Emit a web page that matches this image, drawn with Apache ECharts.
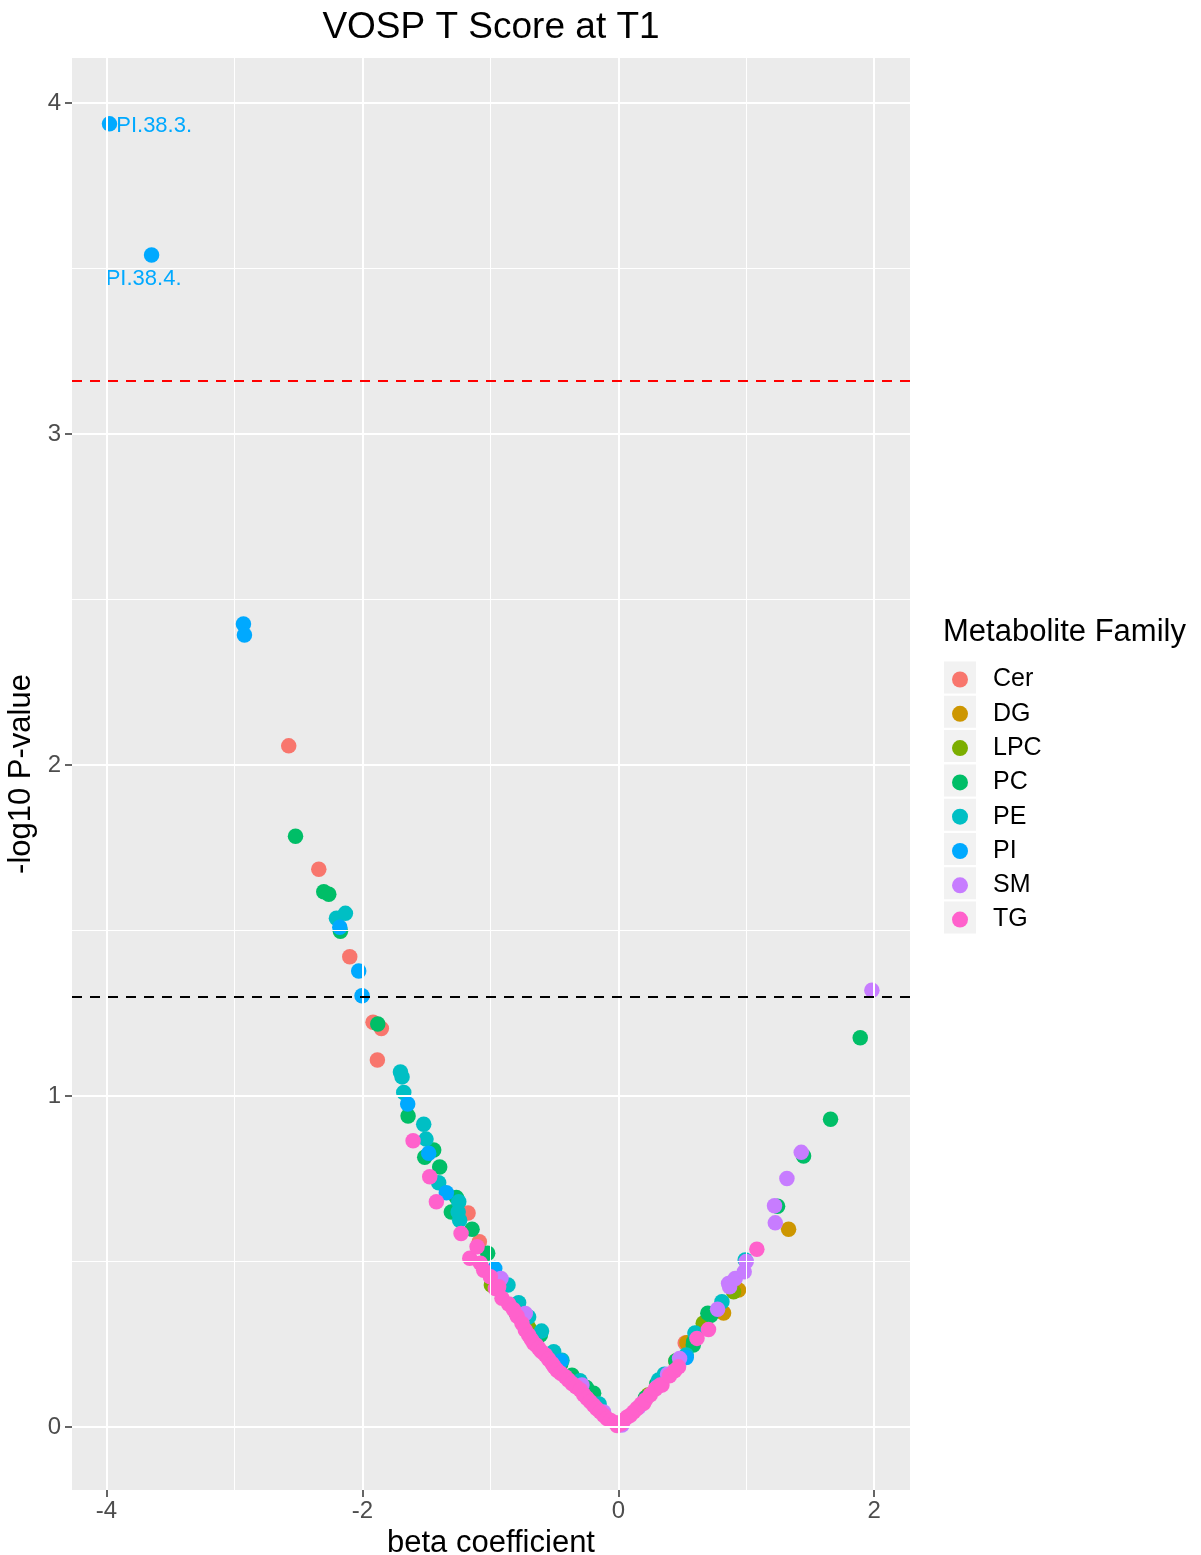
<!DOCTYPE html>
<html>
<head>
<meta charset="utf-8">
<script src="https://cdn.jsdelivr.net/npm/echarts@6/dist/echarts.min.js"></script>
<style>html,body{margin:0;padding:0;background:#fff}#c{width:1201px;height:1555px}</style>
</head>
<body>
<div id="c"></div>
<script>
// ---- data ----
const families = ['Cer','DG','LPC','PC','PE','PI','SM','TG'];
const colors = ['#F8766D','#CD9600','#7CAE00','#00BE67','#00BFC4','#00A9FF','#C77CFF','#FF61CC'];
const xTicks = [-4,-2,0,2];
const xMinor = [-3,-1,1];
const yTicks = [0,1,2,3,4];
const yMinor = [0.5,1.5,2.5,3.5];
const bonferroniLine = 3.157;
const nominalLine = 1.301;

const cerData = [[-2.576,2.058],[-2.341,1.685],[-2.099,1.421],[-1.917,1.223],[-1.852,1.204],[-1.883,1.109],[-1.174,0.647],[-1.086,0.560],[-0.78,0.352],[0.523,0.254]];
const dgData = [[1.331,0.598],[0.940,0.414],[0.823,0.345],[0.536,0.255],[0.60,0.27],[0.45,0.20]];
const lpcData = [[-0.992,0.429],[-0.70,0.30],[0.901,0.409],[0.664,0.314],[0.680,0.308],[0.234,0.097],[0.224,0.092]];
const pcData = [[-2.523,1.785],[-2.302,1.617],[-2.263,1.610],[-2.172,1.498],[-1.880,1.218],[-1.643,0.940],[-1.443,0.837],[-1.513,0.815],[-1.396,0.786],[-1.266,0.694],[-1.305,0.650],[-1.143,0.598],[-1.021,0.525],[-0.797,0.343],[-0.609,0.278],[-0.45,0.19],[-0.362,0.157],[-0.25,0.12],[-0.193,0.102],[0.211,0.088],[0.30,0.13],[0.45,0.20],[0.586,0.248],[0.589,0.258],[0.70,0.344],[0.724,0.338],[1.245,0.667],[1.448,0.819],[1.659,0.930],[1.891,1.176]];
const peData = [[-2.203,1.537],[-2.133,1.552],[-1.703,1.073],[-1.690,1.058],[-1.677,1.011],[-1.521,0.915],[-1.503,0.870],[-1.404,0.738],[-1.247,0.681],[-1.252,0.650],[-1.240,0.625],[-0.862,0.429],[-0.779,0.376],[-0.701,0.333],[-0.60,0.29],[-0.505,0.228],[-0.440,0.202],[-0.30,0.14],[-0.15,0.07],[0.315,0.142],[0.36,0.16],[0.523,0.212],[0.531,0.218],[0.60,0.284],[0.602,0.283],[0.810,0.379],[0.992,0.505]];
const piData = [[-3.977,3.937],[-3.648,3.541],[-2.930,2.426],[-2.922,2.393],[-2.177,1.510],[-2.029,1.378],[-2.003,1.303],[-1.646,0.976],[-1.482,0.827],[-1.344,0.708],[-0.966,0.479],[-0.45,0.20],[0.531,0.210]];
const piLabels = ['PI.38.3.','PI.38.4.'];
const smData = [[-0.917,0.449],[-0.727,0.343],[-0.284,0.127],[-0.115,0.046],[0.0,0.006],[0.029,0.006],[0.16,0.06],[0.30,0.12],[0.385,0.160],[0.479,0.207],[0.776,0.356],[0.862,0.434],[0.870,0.424],[0.914,0.449],[0.984,0.469],[1.0,0.500],[1.227,0.617],[1.221,0.669],[1.318,0.751],[1.430,0.830],[1.982,1.320]];
const tgData = [[-1.604,0.865],[-1.474,0.756],[-1.422,0.681],[-1.229,0.585],[-1.161,0.510],[-1.104,0.545],[-1.078,0.495],[-1.052,0.474],[-1.0,0.454],[-0.961,0.419],[-0.935,0.424],[-0.909,0.389],[-0.857,0.372],[-0.82,0.355],[-0.79,0.335],[-0.753,0.313],[-0.727,0.293],[-0.701,0.278],[-0.68,0.265],[-0.661,0.253],[-0.64,0.247],[-0.622,0.238],[-0.60,0.228],[-0.570,0.218],[-0.545,0.205],[-0.518,0.192],[-0.50,0.182],[-0.479,0.172],[-0.45,0.163],[-0.414,0.152],[-0.39,0.142],[-0.362,0.132],[-0.33,0.122],[-0.297,0.112],[-0.27,0.098],[-0.245,0.087],[-0.22,0.077],[-0.193,0.066],[-0.17,0.056],[-0.141,0.046],[-0.115,0.036],[-0.089,0.026],[-0.06,0.020],[-0.023,0.013],[-0.01,0.005],[0.02,0.010],[0.042,0.021],[0.068,0.030],[0.094,0.036],[0.12,0.046],[0.146,0.056],[0.18,0.070],[0.198,0.072],[0.211,0.082],[0.25,0.098],[0.29,0.115],[0.328,0.127],[0.341,0.127],[0.40,0.155],[0.44,0.170],[0.471,0.182],[0.615,0.268],[0.705,0.295],[1.083,0.537]];

const seriesData = [cerData,dgData,lpcData,pcData,peData,piData,smData,tgData];

// ---- chart ----
const FONT = 'Liberation Sans';
const chart = echarts.init(document.getElementById('c'), null, {renderer:'canvas'});

const majorStyle = {color:'#FFFFFF', width:2, type:'solid'};
const minorStyle = {color:'#FFFFFF', width:1, type:'solid'};
const gridLines = [].concat(
  xMinor.map(v => ({xAxis:v, lineStyle:minorStyle})),
  yMinor.map(v => ({yAxis:v, lineStyle:minorStyle})),
  xTicks.map(v => ({xAxis:v, lineStyle:majorStyle})),
  yTicks.map(v => ({yAxis:v, lineStyle:majorStyle}))
);

const pointSeries = families.map((f,i) => ({
  name: f,
  type: 'scatter',
  z: 2,
  symbol: 'circle',
  symbolSize: 15.5,
  itemStyle: {color: colors[i], opacity: 1},
  emphasis: {disabled: true},
  data: seriesData[i].map((p,j) => {
    const item = {value: p};
    if (f === 'PI' && j < piLabels.length) {
      item.label = j === 0
        ? {show:true, formatter: piLabels[j], position:'right', distance:0, offset:[-1,2], color:colors[i], fontSize:22, fontFamily:FONT}
        : {show:true, formatter: piLabels[j], position:'bottom', distance:5, offset:[-8,0], color:colors[i], fontSize:22, fontFamily:FONT};
    }
    return item;
  })
}));

const option = {
  animation: false,
  backgroundColor: '#FFFFFF',
  textStyle: {fontFamily: FONT},
  grid: {left:72, right:291, top:58, bottom:65, show:true, backgroundColor:'#EBEBEB', borderWidth:0, containLabel:false, outerBoundsMode:'none'},
  xAxis: {
    type:'value', min:-4.27, max:2.28,
    name:'beta coefficient', nameLocation:'middle', nameGap:33,
    nameTextStyle:{fontSize:31, color:'#000', fontFamily:FONT},
    axisLine:{show:false, onZero:false},
    axisTick:{show:true, customValues:xTicks, length:7, lineStyle:{color:'#333333', width:1.5}},
    axisLabel:{show:true, customValues:xTicks, color:'#4D4D4D', fontSize:24, margin:9, fontFamily:FONT},
    splitLine:{show:false}
  },
  yAxis: {
    type:'value', min:-0.19, max:4.136,
    name:'-log10 P-value', nameLocation:'middle', nameGap:33,
    nameTextStyle:{fontSize:31, color:'#000', fontFamily:FONT},
    axisLine:{show:false, onZero:false},
    axisTick:{show:true, customValues:yTicks, length:7, lineStyle:{color:'#333333', width:1.5}},
    axisLabel:{show:true, customValues:yTicks, color:'#4D4D4D', fontSize:24, margin:11, fontFamily:FONT},
    splitLine:{show:false}
  },
  legend: {
    orient:'vertical', left:952, top:667, padding:0,
    itemWidth:16, itemHeight:16, itemGap:9.3,
    icon:'circle',
    data: families,
    formatter: name => '{t|' + name + '}',
    textStyle:{fontSize:25, color:'#000', fontFamily:FONT,
      rich:{t:{fontSize:25, color:'#000', fontFamily:FONT, padding:[0,0,0,20]}}},
    selectedMode:false
  },
  graphic: [].concat(
    [{type:'text', x:491, y:28, style:{text:'VOSP T Score at T1', fill:'#000', font:'37px "Liberation Sans"', textAlign:'center', textVerticalAlign:'middle'}},
     {type:'text', x:943, y:632, style:{text:'Metabolite Family', fill:'#000', font:'31px "Liberation Sans"', textAlign:'left', textVerticalAlign:'middle'}}],
    families.map((f,i) => ({type:'rect', z:-1, shape:{x:944, y:661.5 + i*34.3, width:32, height:32}, style:{fill:'#F2F2F2'}}))
  ),
  series: [
    {type:'scatter', name:'_grid', z:1, silent:true, data:[], markLine:{silent:true, symbol:'none', label:{show:false}, animation:false, data:gridLines}}
  ].concat(pointSeries).concat([
    {type:'scatter', name:'_thresholds', z:3, silent:true, data:[], markLine:{silent:true, symbol:'none', label:{show:false}, animation:false,
      data:[
        {yAxis:bonferroniLine, lineStyle:{color:'#FF0000', width:2, type:[10,8]}},
        {yAxis:nominalLine, lineStyle:{color:'#000000', width:2, type:[10,8]}}
      ]}}
  ])
};
chart.setOption(option);
</script>
</body>
</html>
